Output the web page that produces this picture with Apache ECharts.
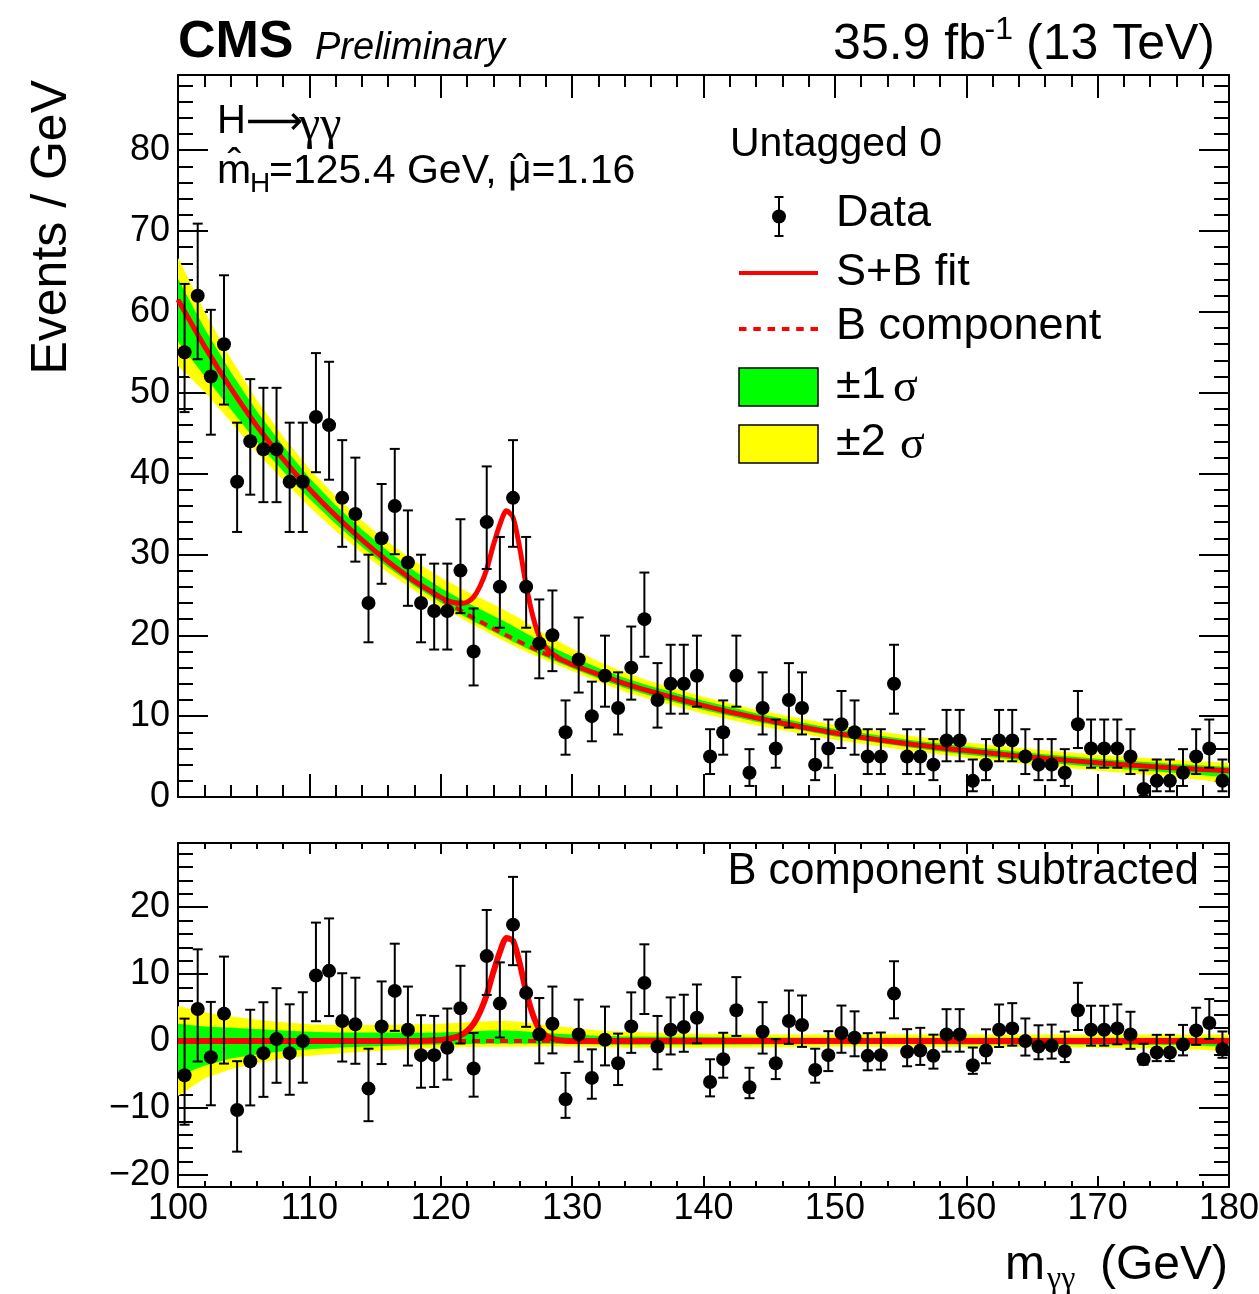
<!DOCTYPE html>
<html>
<head>
<meta charset="utf-8">
<script src="https://cdn.jsdelivr.net/npm/echarts/dist/echarts.min.js"></script>
<style>
  html, body { margin: 0; padding: 0; background: #fff; }
  #chart { width: 1259px; height: 1294px; }
</style>
</head>
<body>
<div id="chart"></div>
<script>
// ---------------- data ----------------
// events per 1 GeV bin, bins from 100 to 180 GeV
const binLow = 100, binWidth = 1;
const events = [55,62,52,56,39,44,43,43,39,39, 47,46,37,35,24,32,36,29,24,23,
                23,28,18,34,26,37,26,19,20,8, 17,10,15,11,16,22,12,14,14,15,
                5,8,15,3,11,6,12,11,4,6, 9,8,5,5,14,5,5,4,7,7,
                2,4,7,7,5,4,4,3,9,6, 6,6,5,1,2,2,3,5,6,2];
// data minus B component (lower panel)
const residuals = [-5.1,4.8,-2.4,4.1,-10.3,-3.0,-1.8,0.3,-1.8,0.0,
                   9.8,10.5,3.0,2.5,-7.1,2.2,7.5,1.7,-2.1,-2.1,
                   -1.0,4.9,-4.1,12.7,5.6,17.4,7.2,1.0,2.6,-8.7,
                   1.0,-5.5,0.2,-3.3,2.2,8.7,-0.8,1.7,2.1,3.5,
                   -6.1,-2.7,4.6,-6.9,1.4,-3.3,3.0,2.4,-4.3,-2.1,
                   1.2,0.5,-2.2,-2.1,7.1,-1.6,-1.4,-2.2,1.0,1.0,
                   -3.6,-1.4,1.7,1.9,0.0,-0.8,-0.7,-1.5,4.6,1.7,
                   1.7,1.9,1.0,-2.7,-1.7,-1.7,-0.5,1.6,2.7,-1.2];
// fitted curves sampled along m_gg
const curveX = [100,102,104,106,108,110,112,114,116,118,
                120,120.5,121,121.5,122,122.5,123,123.5,124,124.5,125,125.5,126,126.5,127,127.5,128,128.5,129,129.5,130,
                132,134,136,138,140,142,144,146,148,150,152,154,156,158,160,162,164,166,168,170,172,174,176,178,180];
const bkgFit = [61.5,55.8,50.6,45.9,41.8,38.1,34.8,31.8,29.1,26.7,
                24.55,24.0,23.55,23.1,22.6,22.13,21.7,21.26,20.83,20.4,20.0,19.6,19.2,18.8,18.42,18.05,17.7,17.36,17.03,16.7,16.37,
                15.16,14.03,13.05,12.15,11.3,10.52,9.8,9.13,8.5,7.92,7.4,6.93,6.5,6.1,5.74,5.4,5.08,4.78,4.5,4.24,4.0,3.78,3.58,3.4,3.24];
const sigFit = [0,0,0,0,0,0,0,0,0,0,
                0.15,0.3,0.5,0.85,1.5,2.6,4.4,6.9,10.3,13.3,15.4,15.0,11.7,7.4,4.0,1.8,0.8,0.35,0.15,0.06,0.02,
                0,0,0,0,0,0,0,0,0,0,0,0,0,0,0,0,0,0,0,0,0,0,0,0,0];
// uncertainty bands (offsets from the B component)
const bandX   = [100,102,104,106,108,110,112,114,116,118,120,122,124,125,126,128,130,132,134,136,140,144,150,156,160,166,170,176,178,180];
const band2Up = [5.2,4.3,3.7,3.2,2.8,2.5,2.4,2.4,2.4,2.5,2.6,2.8,3.0,3.0,2.9,2.4,2.0,1.6,1.4,1.25,1.1,1.0,1.0,1.0,1.0,1.0,1.0,1.0,1.0,1.0];
const band2Dn = [8.2,5.6,4.2,3.3,2.6,2.2,1.9,1.6,1.35,1.15,1.0,0.9,0.85,0.85,0.85,0.8,0.8,0.9,1.0,1.0,1.0,0.95,0.85,0.85,0.9,0.9,1.0,1.15,1.3,1.6];
const band1Up = [2.6,2.2,2.0,1.8,1.6,1.4,1.3,1.3,1.3,1.25,1.3,1.45,1.6,1.6,1.5,1.2,1.0,0.8,0.7,0.65,0.6,0.55,0.5,0.5,0.5,0.5,0.5,0.5,0.5,0.5];
const band1Dn = [5.2,3.7,2.6,2.0,1.5,1.2,1.0,0.85,0.7,0.6,0.5,0.45,0.4,0.4,0.4,0.4,0.45,0.5,0.55,0.55,0.55,0.5,0.45,0.45,0.5,0.5,0.55,0.6,0.7,0.85];

// ---------------- helpers ----------------
const massCenters = events.map((_, i) => binLow + binWidth * (i + 0.5));
const ALPHA = 0.158655;
function poisCdf(k, lam) {
  let term = Math.exp(-lam), sum = term;
  for (let i = 1; i <= k; i++) { term *= lam / i; sum += term; }
  return sum;
}
function garwood(n) {
  let lo = 0;
  if (n > 0) {
    let a = 0, b = n;
    for (let it = 0; it < 60; it++) { const m = (a + b) / 2; if (1 - poisCdf(n - 1, m) < ALPHA) a = m; else b = m; }
    lo = (a + b) / 2;
  }
  let a = n, b = n + 10 * Math.sqrt(n + 1) + 10;
  for (let it = 0; it < 60; it++) { const m = (a + b) / 2; if (poisCdf(n, m) > ALPHA) a = m; else b = m; }
  return [n - lo, (a + b) / 2 - n];
}
const errs = events.map(garwood);
const bkgAtBand = bandX.map(x => bkgFit[curveX.indexOf(x)]);

const F = '"Liberation Sans", Arial, Helvetica, sans-serif';
const SERIF = '"Liberation Serif", "DejaVu Serif", serif';
const RED = '#ff0000', GREEN = '#00ff00', YELLOW = '#ffff00';

const mctx = document.createElement('canvas').getContext('2d');
function textW(s, size, fam) { mctx.font = size + 'px ' + (fam || F); return mctx.measureText(s).width; }

function bandSeries(xi, yi, up, dn, base, color, z) {
  return {
    type: 'custom', xAxisIndex: xi, yAxisIndex: yi, z: z, silent: true, clip: true,
    data: [[bandX[0], 0]],
    renderItem: function (params, api) {
      const pts = [];
      for (let i = 0; i < bandX.length; i++) pts.push(api.coord([bandX[i], base[i] + up[i]]));
      for (let i = bandX.length - 1; i >= 0; i--) pts.push(api.coord([bandX[i], base[i] - dn[i]]));
      return { type: 'polygon', shape: { points: pts }, style: { fill: color, stroke: null } };
    }
  };
}
function errSeries(xi, yi, vals, z) {
  return {
    type: 'custom', xAxisIndex: xi, yAxisIndex: yi, z: z, silent: true, clip: false,
    data: vals.map((v, i) => [massCenters[i], v, v - errs[i][0], v + errs[i][1]]),
    encode: { x: 0, y: [1, 2, 3] },
    renderItem: function (params, api) {
      const x = api.value(0);
      const a = api.coord([x, api.value(2)]);
      const b = api.coord([x, api.value(3)]);
      const c = 5, st = { stroke: '#000', lineWidth: 2 };
      return { type: 'group', children: [
        { type: 'line', shape: { x1: a[0], y1: a[1], x2: b[0], y2: b[1] }, style: st },
        { type: 'line', shape: { x1: a[0] - c, y1: a[1], x2: a[0] + c, y2: a[1] }, style: st },
        { type: 'line', shape: { x1: b[0] - c, y1: b[1], x2: b[0] + c, y2: b[1] }, style: st }
      ]};
    }
  };
}
function xAx(grid, pos, major, minor, labels) {
  return {
    type: 'value', gridIndex: grid, position: pos, min: 100, max: 180, interval: 10,
    axisLine: { show: true, onZero: false, lineStyle: { color: '#000', width: 2 } },
    axisTick: { show: true, inside: true, length: major, lineStyle: { color: '#000', width: 2 } },
    minorTick: { show: true, splitNumber: 5, length: minor, lineStyle: { color: '#000', width: 2 } },
    splitLine: { show: false }, minorSplitLine: { show: false },
    axisLabel: { show: labels, fontFamily: F, fontSize: 36, color: '#000', margin: 4 }
  };
}
function yAx(grid, pos, extra, labels) {
  return Object.assign({
    type: 'value', gridIndex: grid, position: pos,
    axisLine: { show: true, onZero: false, lineStyle: { color: '#000', width: 2 } },
    axisTick: { show: true, inside: true, length: 30, lineStyle: { color: '#000', width: 2 } },
    minorTick: { show: true, splitNumber: 5, length: 15, lineStyle: { color: '#000', width: 2 } },
    splitLine: { show: false }, minorSplitLine: { show: false },
    axisLabel: { show: labels, fontFamily: F, fontSize: 36, color: '#000', margin: 8,
                 showMinLabel: grid === 0, showMaxLabel: false,
                 formatter: v => String(v).replace('-', '\u2212') }
  }, extra);
}
function txt(x, y, text, size, opts) {
  return { type: 'text', x: x, y: y, z: 100, silent: true,
           style: Object.assign({ text: text, fontFamily: F, fontSize: size, fill: '#000', align: 'left', verticalAlign: 'middle' }, opts || {}) };
}

const topY = { min: 0, max: 89.3, interval: 10 };
const botY = { min: -21.8, max: 29.6, splitNumber: 5, minInterval: 10, maxInterval: 10 };

// positions of the fit-result text pieces
const fitA = '=125.4 GeV, ', fitB = '\u03bc', fitC = '=1.16';
const fitX0 = 269;
const fitX1 = fitX0 + textW(fitA, 41);
const fitX2 = fitX1 + textW(fitB, 41);

const lineStyleSmooth = 0.25;

const option = {
  animation: false,
  backgroundColor: '#fff',
  grid: [
    { left: 178, top: 75, width: 1051, height: 722, show: false, outerBoundsMode: 'none', containLabel: false },
    { left: 178, top: 843, width: 1051, height: 344, show: false, outerBoundsMode: 'none', containLabel: false }
  ],
  xAxis: [ xAx(0, 'bottom', 23, 12, false), xAx(0, 'top', 23, 12, false),
           xAx(1, 'bottom', 11, 6, true),  xAx(1, 'top', 11, 6, false) ],
  yAxis: [ yAx(0, 'left', topY, true), yAx(0, 'right', topY, false),
           yAx(1, 'left', botY, true), yAx(1, 'right', botY, false) ],
  series: [
    // upper panel
    bandSeries(0, 0, band2Up, band2Dn, bkgAtBand, YELLOW, 1),
    bandSeries(0, 0, band1Up, band1Dn, bkgAtBand, GREEN, 2),
    { type: 'line', xAxisIndex: 0, yAxisIndex: 0, z: 3, silent: true, showSymbol: false, smooth: false,
      data: curveX.map((x, i) => [x, bkgFit[i]]), lineStyle: { color: RED, width: 4, type: [8, 6] } },
    { type: 'line', xAxisIndex: 0, yAxisIndex: 0, z: 4, silent: true, showSymbol: false, smooth: lineStyleSmooth,
      data: curveX.map((x, i) => [x, bkgFit[i] + sigFit[i]]), lineStyle: { color: RED, width: 5 } },
    errSeries(0, 0, events, 5),
    { type: 'scatter', xAxisIndex: 0, yAxisIndex: 0, z: 6, silent: true, symbol: 'circle', symbolSize: 14,
      data: events.map((v, i) => [massCenters[i], v]), itemStyle: { color: '#000', opacity: 1 } },
    // lower panel
    bandSeries(2, 2, band2Up, band2Dn, bandX.map(() => 0), YELLOW, 1),
    bandSeries(2, 2, band1Up, band1Dn, bandX.map(() => 0), GREEN, 2),
    { type: 'line', xAxisIndex: 2, yAxisIndex: 2, z: 3, silent: true, showSymbol: false,
      data: [[100, 0], [180, 0]], lineStyle: { color: RED, width: 4, type: [8, 6] } },
    { type: 'line', xAxisIndex: 2, yAxisIndex: 2, z: 4, silent: true, showSymbol: false, smooth: lineStyleSmooth,
      data: curveX.map((x, i) => [x, sigFit[i]]), lineStyle: { color: RED, width: 6 } },
    errSeries(2, 2, residuals, 5),
    { type: 'scatter', xAxisIndex: 2, yAxisIndex: 2, z: 6, silent: true, symbol: 'circle', symbolSize: 14,
      data: residuals.map((v, i) => [massCenters[i], v]), itemStyle: { color: '#000', opacity: 1 } }
  ],
  graphic: [
    // header
    txt(178, 43, 'CMS', 52, { fontWeight: 'bold' }),
    txt(315, 48, 'Preliminary', 38, { fontStyle: 'italic' }),
    txt(1215, 45, '(13 TeV)', 50, { align: 'right' }),
    txt(1013, 30, '-1', 32, { align: 'right' }),
    txt(986, 45, '35.9 fb', 50, { align: 'right' }),
    // process annotations
    txt(217, 122, 'H', 40),
    txt(246, 124, '\u27f6', 40, { fontFamily: '"DejaVu Sans", sans-serif' }),
    txt(299, 126, '\u03b3\u03b3', 48, { fontFamily: SERIF }),
    txt(217, 172, 'm\u0302', 41),
    txt(250, 184, 'H', 28),
    txt(fitX0, 172, fitA, 41),
    txt(fitX1, 172, fitB, 41),
    txt((fitX1 + fitX2) / 2, 172, '\u02c6', 41, { align: 'center' }),
    txt(fitX2, 172, fitC, 41),
    // legend
    txt(730, 145, 'Untagged 0', 41),
    { type: 'line', z: 100, shape: { x1: 779, y1: 197, x2: 779, y2: 236 }, style: { stroke: '#000', lineWidth: 2 } },
    { type: 'line', z: 100, shape: { x1: 774.5, y1: 197, x2: 783.5, y2: 197 }, style: { stroke: '#000', lineWidth: 2 } },
    { type: 'line', z: 100, shape: { x1: 774.5, y1: 236, x2: 783.5, y2: 236 }, style: { stroke: '#000', lineWidth: 2 } },
    { type: 'circle', z: 100, shape: { cx: 779, cy: 216.5, r: 7 }, style: { fill: '#000' } },
    txt(836, 214, 'Data', 45),
    { type: 'line', z: 100, shape: { x1: 739, y1: 273, x2: 818, y2: 273 }, style: { stroke: RED, lineWidth: 4 } },
    txt(836, 273, 'S+B fit', 45),
    { type: 'line', z: 100, shape: { x1: 739, y1: 329, x2: 818, y2: 329 }, style: { stroke: RED, lineWidth: 4, lineDash: [7.5, 6.8] } },
    txt(836, 327, 'B component', 45),
    { type: 'rect', z: 100, shape: { x: 739, y: 368, width: 79, height: 38 }, style: { fill: GREEN, stroke: '#000', lineWidth: 1.5 } },
    txt(836, 386, '\u00b11', 45),
    txt(893, 389, '\u03c3', 46, { fontFamily: SERIF }),
    { type: 'rect', z: 100, shape: { x: 739, y: 425, width: 79, height: 38 }, style: { fill: YELLOW, stroke: '#000', lineWidth: 1.5 } },
    txt(836, 443, '\u00b12', 45),
    txt(900, 446, '\u03c3', 46, { fontFamily: SERIF }),
    // lower panel label
    txt(1199, 872, 'B component subtracted', 43.5, { align: 'right' }),
    // axis titles
    txt(1005, 1266, 'm', 48),
    txt(1047, 1280, '\u03b3\u03b3', 32, { fontFamily: SERIF }),
    txt(1228, 1266, '(GeV)', 48, { align: 'right' }),
    { type: 'text', x: 52, y: 80, rotation: Math.PI / 2, z: 100, silent: true,
      style: { text: 'Events / GeV', fontFamily: F, fontSize: 50, fill: '#000', align: 'right', verticalAlign: 'middle' } }
  ]
};

const chart = echarts.init(document.getElementById('chart'), null, { renderer: 'canvas', width: 1259, height: 1294 });
chart.setOption(option);
</script>
</body>
</html>
